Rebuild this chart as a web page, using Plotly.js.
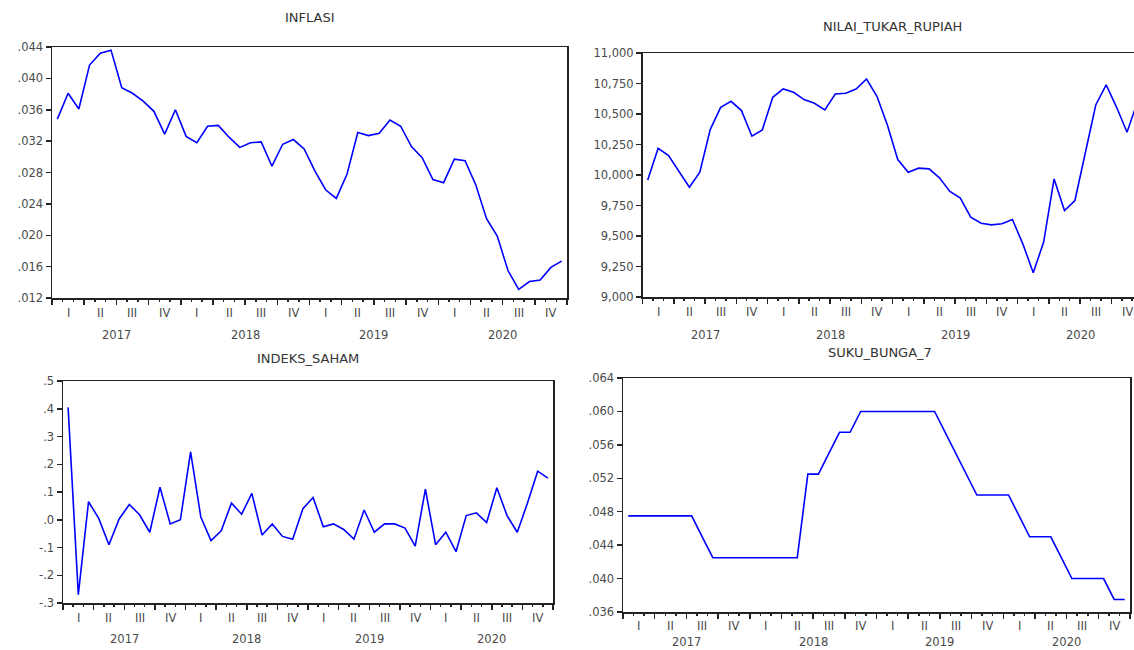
<!DOCTYPE html>
<html><head><meta charset="utf-8">
<script src="https://cdn.plot.ly/plotly-3.0.1.min.js"></script>
<style>html,body{margin:0;padding:0;background:#fff;overflow:hidden}</style>
</head><body><div id="chart" style="width:1134px;height:650px"></div>
<script>
// ---- data (monthly, 2017M01 .. 2020M12) ----
const years = [2017, 2018, 2019, 2020];
const quarterLabels = ['I', 'II', 'III', 'IV'];

const inflasi = [
  0.0348, 0.0381, 0.0361, 0.0417, 0.0432, 0.0436, 0.0388, 0.0381, 0.0371, 0.0358, 0.0329, 0.0360,
  0.0326, 0.0318, 0.0339, 0.0340, 0.0325, 0.0312, 0.0318, 0.0319, 0.0288, 0.0316, 0.0322, 0.0310,
  0.0282, 0.0258, 0.0247, 0.0278, 0.0331, 0.0327, 0.0330, 0.0347, 0.0339, 0.0313, 0.0299, 0.0271,
  0.0267, 0.0297, 0.0295, 0.0264, 0.0221, 0.0199, 0.0155, 0.0131, 0.0141, 0.0143, 0.0159, 0.0167
];
const nilaiTukarRupiah = [
  9960, 10219, 10159, 10028, 9900, 10023, 10372, 10555, 10604, 10528, 10318, 10370,
  10637, 10705, 10678, 10618, 10588, 10533, 10664, 10670, 10705, 10787, 10645, 10410,
  10127, 10023, 10056, 10050, 9977, 9865, 9810, 9654, 9605, 9591, 9600, 9635,
  9436, 9199, 9450, 9968, 9709, 9791, 10187, 10574, 10738, 10555, 10350, 10600
];
const indeksSaham = [
  0.405, -0.270, 0.065, 0.005, -0.090, 0.003, 0.055, 0.018, -0.045, 0.117, -0.015, 0.000,
  0.245, 0.010, -0.075, -0.040, 0.060, 0.020, 0.095, -0.055, -0.015, -0.060, -0.070, 0.040,
  0.080, -0.025, -0.015, -0.035, -0.070, 0.035, -0.045, -0.015, -0.015, -0.030, -0.095, 0.110,
  -0.090, -0.045, -0.115, 0.015, 0.025, -0.010, 0.115, 0.015, -0.045, 0.060, 0.175, 0.150
];
const sukuBunga7 = [
  0.0475, 0.0475, 0.0475, 0.0475, 0.0475, 0.0475, 0.0475, 0.0450, 0.0425, 0.0425, 0.0425, 0.0425,
  0.0425, 0.0425, 0.0425, 0.0425, 0.0425, 0.0525, 0.0525, 0.0550, 0.0575, 0.0575, 0.0600, 0.0600,
  0.0600, 0.0600, 0.0600, 0.0600, 0.0600, 0.0600, 0.0575, 0.0550, 0.0525, 0.0500, 0.0500, 0.0500,
  0.0500, 0.0475, 0.0450, 0.0450, 0.0450, 0.0425, 0.0400, 0.0400, 0.0400, 0.0400, 0.0375, 0.0375
];

const inflasiTickVals = [0.012, 0.016, 0.020, 0.024, 0.028, 0.032, 0.036, 0.040, 0.044];
const inflasiTickText = ['.012', '.016', '.020', '.024', '.028', '.032', '.036', '.040', '.044'];
const nilaiTickVals = [9000, 9250, 9500, 9750, 10000, 10250, 10500, 10750, 11000];
const nilaiTickText = ['9,000', '9,250', '9,500', '9,750', '10,000', '10,250', '10,500', '10,750', '11,000'];
const sahamTickVals = [-0.3, -0.2, -0.1, 0.0, 0.1, 0.2, 0.3, 0.4, 0.5];
const sahamTickText = ['-.3', '-.2', '-.1', '.0', '.1', '.2', '.3', '.4', '.5'];
const sukuTickVals = [0.036, 0.040, 0.044, 0.048, 0.052, 0.056, 0.060, 0.064];
const sukuTickText = ['.036', '.040', '.044', '.048', '.052', '.056', '.060', '.064'];

// ---- layout helpers ----
const W = 1134, H = 650;
const px = v => v / W;
const py = v => (H - v) / H;
const nMonths = years.length * 12;
const monthPos = Array.from({length: nMonths}, (_, i) => i + 0.5);
const quarterBounds = Array.from({length: years.length * 4 + 1}, (_, i) => i * 3);

const FONT = 'DejaVu Sans, Liberation Sans, Arial, sans-serif';
const LINE = '#222';
const TXT = '#4a4a4a';

const panels = [
  {title: 'INFLASI', y: inflasi, tv: inflasiTickVals, tt: inflasiTickText, yr: [0.012, 0.044],
   left: 52, right: 567, top: 47, bottom: 298, xmax: 48, tx: 310, ty: 18, qy: 313, yy: 335, mirrorY: true},
  {title: 'NILAI_TUKAR_RUPIAH', y: nilaiTukarRupiah, tv: nilaiTickVals, tt: nilaiTickText, yr: [9000, 11000],
   left: 642.5, right: 1134, top: 53, bottom: 297, xmax: 47.17, tx: 892, ty: 27, qy: 312, yy: 335, mirrorY: false},
  {title: 'INDEKS_SAHAM', y: indeksSaham, tv: sahamTickVals, tt: sahamTickText, yr: [-0.3, 0.5],
   left: 63, right: 553, top: 381, bottom: 603, xmax: 48, tx: 308, ty: 358, qy: 618, yy: 639, mirrorY: true},
  {title: 'SUKU_BUNGA_7', y: sukuBunga7, tv: sukuTickVals, tt: sukuTickText, yr: [0.036, 0.064],
   left: 623, right: 1130, top: 378, bottom: 612, xmax: 48, tx: 880, ty: 352, qy: 626, yy: 642, mirrorY: true}
];

const data = [];
const layout = {
  width: W, height: H,
  margin: {l: 0, r: 0, t: 0, b: 0},
  paper_bgcolor: '#fff', plot_bgcolor: '#fff',
  showlegend: false,
  annotations: []
};

panels.forEach((p, k) => {
  const n = k === 0 ? '' : String(k + 1);
  const xa = 'xaxis' + n, ya = 'yaxis' + n;
  const xr = 'x' + n, yr = 'y' + n;
  data.push({
    x: monthPos, y: p.y, xaxis: xr, yaxis: yr,
    type: 'scatter', mode: 'lines',
    line: {color: '#0000ff', width: 1.6},
    hoverinfo: 'skip'
  });
  layout[xa] = {
    domain: [px(p.left), px(p.right)], anchor: yr,
    range: [0, p.xmax], fixedrange: true,
    showgrid: false, zeroline: false,
    showline: true, linecolor: LINE, linewidth: 1.5, mirror: true,
    tickmode: 'array', tickvals: quarterBounds,
    ticks: 'outside', ticklen: 5, tickwidth: 1.5, tickcolor: LINE,
    showticklabels: false,
    minor: {tickmode: 'linear', tick0: 0, dtick: 1, ticks: 'outside', ticklen: 2, tickwidth: 1.5, tickcolor: LINE, showgrid: false}
  };
  layout[ya] = {
    domain: [py(p.bottom), py(p.top)], anchor: xr,
    range: p.yr, fixedrange: true,
    showgrid: false, zeroline: false,
    showline: true, linecolor: LINE, linewidth: 1.5, mirror: p.mirrorY,
    tickmode: 'array', tickvals: p.tv, ticktext: p.tt,
    ticks: 'outside', ticklen: 5, tickwidth: 1.5, tickcolor: LINE,
    tickfont: {family: FONT, size: 11.5, color: TXT}
  };
  layout.annotations.push({
    text: p.title, xref: 'paper', yref: 'paper', x: px(p.tx), y: py(p.ty),
    xanchor: 'center', yanchor: 'middle', showarrow: false,
    font: {family: FONT, size: 13, color: '#333'}
  });
  years.forEach((yrv, yi) => {
    quarterLabels.forEach((q, qi) => {
      const c = yi * 12 + qi * 3 + 1.5;
      if (c > p.xmax) return;
      layout.annotations.push({
        text: q, xref: xr, yref: 'paper', x: c, y: py(p.qy),
        xanchor: 'center', yanchor: 'middle', showarrow: false,
        font: {family: FONT, size: 11.5, color: TXT}
      });
    });
    const yc = yi * 12 + 6;
    if (yc <= p.xmax) {
      layout.annotations.push({
        text: String(yrv), xref: xr, yref: 'paper', x: yc, y: py(p.yy),
        xanchor: 'center', yanchor: 'middle', showarrow: false,
        font: {family: FONT, size: 11.5, color: TXT}
      });
    }
  });
});

Plotly.newPlot('chart', data, layout, {staticPlot: true, displayModeBar: false});
</script>
</body></html>
